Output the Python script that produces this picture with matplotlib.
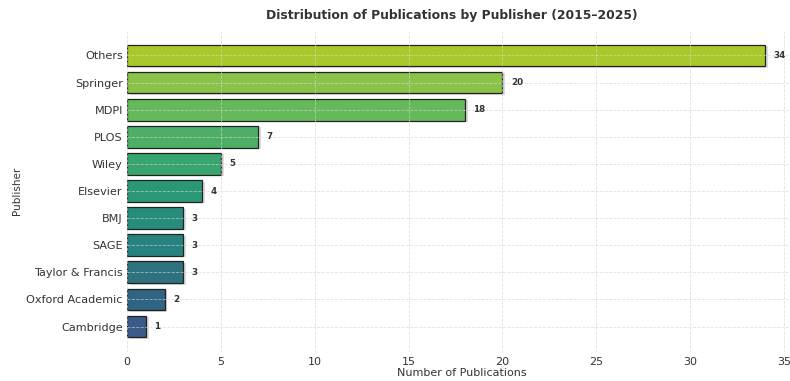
import numpy as np
import matplotlib.pyplot as plt
import matplotlib.patheffects as pe

# Data
publishers = ['Others', 'Springer', 'MDPI', 'PLOS', 'Wiley', 'Elsevier', 'BMJ',
              'SAGE', 'Taylor & Francis', 'Oxford Academic', 'Cambridge']
counts = [34, 20, 18, 7, 5, 4, 3, 3, 3, 2, 1]

# muted viridis-like colours, top to bottom
colors = ['#a9c92b', '#8bc34a', '#66b95a', '#4daf66', '#38a46e', '#2a9877',
          '#268d7c', '#27837f', '#2c737f', '#306485', '#3a5a8a']

fig = plt.figure(figsize=(7.9, 3.81), dpi=100)
ax = fig.add_axes([127 / 790, 1 - 352 / 381, 670 / 790, 322 / 381])

y = np.arange(len(publishers))
bars = ax.barh(y, counts, height=0.8, color=colors, edgecolor='#222222', linewidth=0.9)
for b in bars:
    b.set_path_effects([pe.SimplePatchShadow(offset=(2, -1), shadow_rgbFace='#bbbbbb', alpha=0.5),
                        pe.Normal()])

ax.set_yticks(y)
ax.set_yticklabels(publishers, fontsize=8.1, color='#333333')
ax.invert_yaxis()
ax.set_xlim(0, 35.7)
ax.set_xticks([0, 5, 10, 15, 20, 25, 30, 35])
ax.tick_params(axis='x', labelsize=8, colors='#333333', length=0)
ax.tick_params(axis='y', length=0, pad=3)

for s in ax.spines.values():
    s.set_visible(False)

ax.grid(True, linestyle='--', color='#d5d5d5', linewidth=0.6, alpha=0.7)
ax.set_axisbelow(False)

for yi, v in zip(y, counts):
    ax.text(v + 0.45, yi, str(v), va='center', ha='left', fontsize=6.3,
            fontweight='bold', color='#333333')

ax.set_xlabel('Number of Publications', fontsize=8, color='#333333', labelpad=1)
ax.set_ylabel('Publisher', fontsize=7.5, color='#333333', labelpad=3)
fig.text(452 / 790, 1 - 15 / 381, 'Distribution of Publications by Publisher (2015\u20132025)',
         ha='center', va='center', fontsize=8.9, fontweight='bold', color='#333333')

plt.savefig('out.png', dpi=100)
